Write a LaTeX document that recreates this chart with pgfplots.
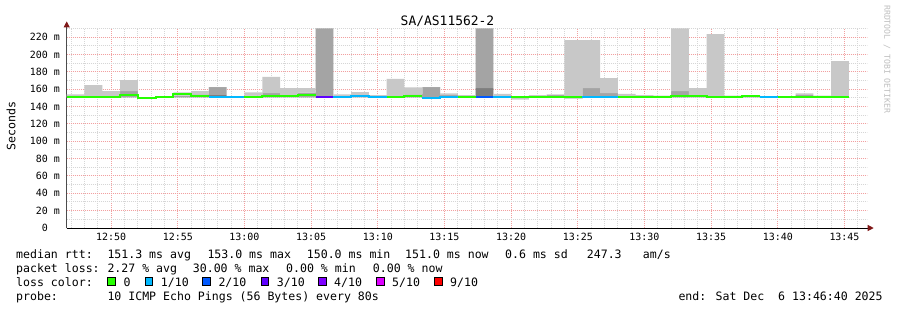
\documentclass[border=0pt]{standalone}
\usepackage{fontspec}
\setmainfont{DejaVu Sans Mono}
\usepackage{pgfplots}
\pgfplotsset{compat=1.18}
\usepackage{pgfplotstable}
\usetikzlibrary{arrows.meta}

\definecolor{lc0}{HTML}{26FF00}
\definecolor{lc1}{HTML}{00B8FF}
\definecolor{lc2}{HTML}{0059FF}
\definecolor{lc3}{HTML}{5E00FF}
\definecolor{lc4}{HTML}{7E00FF}
\definecolor{lc5}{HTML}{DD00FF}
\definecolor{lc9}{HTML}{FF0000}
\definecolor{smokeA}{HTML}{C8C8C8}
\definecolor{smokeB}{HTML}{A4A4A4}
\definecolor{smokeC}{HTML}{7E7E7E}
\definecolor{mgrid}{HTML}{F2A0A0}
\definecolor{mingrid}{HTML}{D6D6D6}
\definecolor{arrowred}{HTML}{801818}

% smoke per 80 s interval (x in minutes after 12:00)
\pgfplotstableread{
x hi dhi ddhi lo
46.6667 154.0 150.5 150.5 150.5
48.0000 164.7 150.5 150.5 150.5
49.3333 157.8 150.5 150.5 150.5
50.6667 170.5 157.8 150.5 150.5
52.0000 149.8 148.8 148.8 148.8
53.3333 151.8 150.3 150.3 150.3
54.6667 156.3 152.5 150.5 150.5
56.0000 157.8 154.0 150.5 150.5
57.3333 162.4 162.4 153.5 150.5
58.6667 151.0 151.0 151.0 151.0
60.0000 156.3 152.5 150.5 150.5
61.3333 174.0 155.5 150.5 150.5
62.6667 161.3 150.5 150.5 150.5
64.0000 161.3 156.0 150.5 150.5
65.3333 230.0 230.0 151.5 150.5
66.6667 154.0 150.5 150.5 150.5
68.0000 156.7 150.5 150.5 150.5
69.3333 153.0 150.5 150.5 150.5
70.6667 171.7 150.5 150.5 150.5
72.0000 162.0 154.0 150.5 150.5
73.3333 162.4 162.4 149.8 149.8
74.6667 155.2 153.0 150.5 150.5
76.0000 153.0 150.5 150.5 150.5
77.3333 230.0 230.0 161.3 150.5
78.6667 154.5 150.5 150.5 150.5
80.0000 150.8 148.6 148.6 148.6
81.3333 153.0 152.0 150.5 150.5
82.6667 154.0 153.0 150.5 150.5
84.0000 216.6 149.0 149.0 149.0
85.3333 216.6 161.3 150.5 150.5
86.6667 172.8 155.5 150.5 150.5
88.0000 154.5 150.5 150.5 150.5
89.3333 153.0 150.5 150.5 150.5
90.6667 152.5 150.5 150.5 150.5
92.0000 230.0 157.8 150.5 150.5
93.3333 161.3 150.5 150.5 150.5
94.6667 223.5 150.5 150.5 150.5
96.0000 152.5 150.5 150.5 150.5
97.3333 153.0 150.5 150.5 150.5
98.6667 151.0 151.0 151.0 151.0
100.0000 151.0 151.0 151.0 151.0
101.3333 155.0 153.5 150.5 150.5
102.6667 152.5 150.5 150.5 150.5
104.0000 192.4 150.5 150.5 150.5
105.3333 192.4 150.5 150.5 150.5
}\smoke

% median rtt, one column per loss colour (start and end of each interval)
\pgfplotstableread{
x g c1 c2 c3
46.6667 151.3 nan nan nan
48.0000 151.3 nan nan nan
48.0000 151.3 nan nan nan
49.3333 151.3 nan nan nan
49.3333 151.3 nan nan nan
50.6667 151.3 nan nan nan
50.6667 153.2 nan nan nan
52.0000 153.2 nan nan nan
52.0000 149.4 nan nan nan
53.3333 149.4 nan nan nan
53.3333 150.9 nan nan nan
54.6667 150.9 nan nan nan
54.6667 154.0 nan nan nan
56.0000 154.0 nan nan nan
56.0000 152.4 nan nan nan
57.3333 152.4 nan nan nan
57.3333 nan 151.3 nan nan
58.6667 nan 151.3 nan nan
58.6667 nan 151.3 nan nan
60.0000 nan 151.3 nan nan
60.0000 151.3 nan nan nan
61.3333 151.3 nan nan nan
61.3333 152.4 nan nan nan
62.6667 152.4 nan nan nan
62.6667 151.8 nan nan nan
64.0000 151.8 nan nan nan
64.0000 153.0 nan nan nan
65.3333 153.0 nan nan nan
65.3333 nan nan nan 151.3
66.6667 nan nan nan 151.3
66.6667 nan 151.3 nan nan
68.0000 nan 151.3 nan nan
68.0000 nan 152.1 nan nan
69.3333 nan 152.1 nan nan
69.3333 nan 151.3 nan nan
70.6667 nan 151.3 nan nan
70.6667 151.3 nan nan nan
72.0000 151.3 nan nan nan
72.0000 152.4 nan nan nan
73.3333 152.4 nan nan nan
73.3333 nan 150.1 nan nan
74.6667 nan 150.1 nan nan
74.6667 nan 151.3 nan nan
76.0000 nan 151.3 nan nan
76.0000 151.3 nan nan nan
77.3333 151.3 nan nan nan
77.3333 nan nan 151.3 nan
78.6667 nan nan 151.3 nan
78.6667 nan 151.3 nan nan
80.0000 nan 151.3 nan nan
80.0000 150.5 nan nan nan
81.3333 150.5 nan nan nan
81.3333 151.3 nan nan nan
82.6667 151.3 nan nan nan
82.6667 151.3 nan nan nan
84.0000 151.3 nan nan nan
84.0000 151.3 nan nan nan
85.3333 151.3 nan nan nan
85.3333 nan 151.3 nan nan
86.6667 nan 151.3 nan nan
86.6667 nan 151.3 nan nan
88.0000 nan 151.3 nan nan
88.0000 151.3 nan nan nan
89.3333 151.3 nan nan nan
89.3333 151.3 nan nan nan
90.6667 151.3 nan nan nan
90.6667 151.3 nan nan nan
92.0000 151.3 nan nan nan
92.0000 152.4 nan nan nan
93.3333 152.4 nan nan nan
93.3333 152.4 nan nan nan
94.6667 152.4 nan nan nan
94.6667 151.3 nan nan nan
96.0000 151.3 nan nan nan
96.0000 151.3 nan nan nan
97.3333 151.3 nan nan nan
97.3333 152.4 nan nan nan
98.6667 152.4 nan nan nan
98.6667 nan 151.3 nan nan
100.0000 nan 151.3 nan nan
100.0000 151.3 nan nan nan
101.3333 151.3 nan nan nan
101.3333 151.3 nan nan nan
102.6667 151.3 nan nan nan
102.6667 151.3 nan nan nan
104.0000 151.3 nan nan nan
104.0000 151.3 nan nan nan
105.3333 151.3 nan nan nan
}\median

\newcommand\LG[3]{\node[anchor=base west, inner sep=0pt, font=\fontsize{11.6}{14}\selectfont] at (#1,#2) {#3};}
\newcommand\SQ[2]{\draw[fill=#2, draw=black, line width=0.8bp] (#1,24.7) rectangle ++(7.7,8.3);}

\begin{document}
\begin{tikzpicture}[x=1bp,y=1bp]
\fill[white] (0,0) rectangle (897,310);
\path[use as bounding box] (0,0) rectangle (897,310);
\begin{axis}[
  at={(66.7bp,82bp)}, anchor=south west,
  scale only axis, width=800bp, height=199.6bp,
  xmin=46.6667, xmax=106.6667, ymin=0, ymax=230,
  axis x line=bottom, axis y line=left,
  x axis line style={-{Triangle[length=6bp,width=6bp,color=arrowred]}, shorten >=-7bp, line width=1bp, draw=black},
  y axis line style={-{Triangle[length=6bp,width=6bp,color=arrowred]}, shorten >=-7bp, line width=1bp, draw=black!70},
  xtick={50,55,...,105},
  xticklabels={12:50,12:55,13:00,13:05,13:10,13:15,13:20,13:25,13:30,13:35,13:40,13:45},
  minor xtick={47,48,49,51,52,53,54,56,57,58,59,61,62,63,64,66,67,68,69,71,72,73,74,76,77,78,79,81,82,83,84,86,87,88,89,91,92,93,94,96,97,98,99,101,102,103,104,106},
  ytick={0,20,...,220},
  yticklabels={0\phantom{\ m},20 m,40 m,60 m,80 m,100 m,120 m,140 m,160 m,180 m,200 m,220 m},
  minor ytick={10,30,...,230},
  major tick length=0pt, minor tick length=0pt,
  grid=both,
  major grid style={draw=mgrid, line width=1bp, dash pattern=on 1bp off 1bp},
  minor grid style={draw=mingrid, line width=1bp, dash pattern=on 1bp off 1bp},
  tick label style={font=\fontsize{10}{12}\selectfont, text=black},
  xticklabel style={anchor=base, inner sep=0pt, yshift=-12.5bp},
  yticklabel style={anchor=east, inner sep=0pt, xshift=-6.7bp},
]
% smoke: stacked from the minimum upward (darkest band first)
\addplot[draw=none, const plot, stack plots=y, forget plot] table[x=x, y=lo]{\smoke};
\addplot[fill=smokeC, draw=none, const plot, stack plots=y] table[x=x, y expr=\thisrow{ddhi}-\thisrow{lo}]{\smoke} \closedcycle;
\addplot[fill=smokeB, draw=none, const plot, stack plots=y] table[x=x, y expr=\thisrow{dhi}-\thisrow{ddhi}]{\smoke} \closedcycle;
\addplot[fill=smokeA, draw=none, const plot, stack plots=y] table[x=x, y expr=\thisrow{hi}-\thisrow{dhi}]{\smoke} \closedcycle;
% median lines, coloured by loss
\addplot[lc0, line width=2bp, unbounded coords=jump, stack plots=false] table[x=x, y=g]{\median};
\addplot[lc1, line width=2bp, unbounded coords=jump, stack plots=false] table[x=x, y=c1]{\median};
\addplot[lc2, line width=2bp, unbounded coords=jump, stack plots=false] table[x=x, y=c2]{\median};
\addplot[lc3, line width=2bp, unbounded coords=jump, stack plots=false] table[x=x, y=c3]{\median};
\end{axis}

% title, axis label, watermark
\node[anchor=base, inner sep=0pt, font=\fontsize{13}{15}\selectfont] at (447.5,285) {SA/AS11562-2};
\node[rotate=90, inner sep=0pt, font=\fontsize{11.6}{14}\selectfont] at (11,184) {Seconds};
\node[rotate=-90, anchor=west, inner sep=0pt, text=black!25, font=\fontsize{8.2}{10}\selectfont] at (887,305) {RRDTOOL / TOBI OETIKER};

% legend lines
\LG{16}{51.7}{median rtt:}
\LG{107.3}{51.7}{151.3 ms avg}
\LG{207.3}{51.7}{153.0 ms max}
\LG{306.7}{51.7}{150.0 ms min}
\LG{405}{51.7}{151.0 ms now}
\LG{505}{51.7}{0.6 ms sd}
\LG{586.7}{51.7}{247.3}
\LG{642.7}{51.7}{am/s}

\LG{16}{37.7}{packet loss:}
\LG{107.3}{37.7}{2.27 \% avg}
\LG{192.7}{37.7}{30.00 \% max}
\LG{286.0}{37.7}{0.00 \% min}
\LG{372.7}{37.7}{0.00 \% now}

\LG{16}{23.7}{loss color:}
\SQ{107.5}{lc0}\LG{123.3}{23.7}{0}
\SQ{145.0}{lc1}\LG{160.7}{23.7}{1/10}
\SQ{202.8}{lc2}\LG{218.3}{23.7}{2/10}
\SQ{261.0}{lc3}\LG{276.7}{23.7}{3/10}
\SQ{318.5}{lc4}\LG{334.0}{23.7}{4/10}
\SQ{376.5}{lc5}\LG{392.0}{23.7}{5/10}
\SQ{434.5}{lc9}\LG{450.0}{23.7}{9/10}

\LG{16}{9.7}{probe:}
\LG{107.3}{9.7}{10 ICMP Echo Pings (56 Bytes) every 80s}
\LG{678.3}{9.7}{end: Sat Dec\ \ 6 13:46:40 2025}
\end{tikzpicture}
\end{document}
